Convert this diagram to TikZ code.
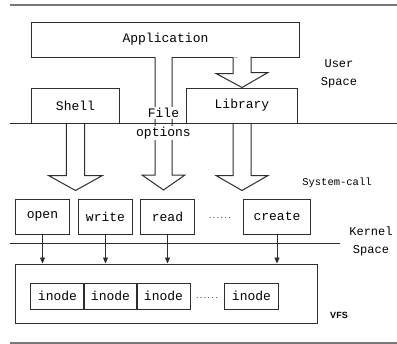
\documentclass[tikz,border=0pt]{standalone}
\usepackage{fontspec}
\setmonofont{Liberation Mono}
\newfontfamily\labelsans{Liberation Sans}
\usetikzlibrary{arrows.meta}
\definecolor{ink}{RGB}{45,45,45}
\definecolor{rule}{RGB}{120,120,120}
\newcommand\ttbig{\ttfamily\fontsize{13bp}{15bp}\selectfont}
\newcommand\ttlabel{\ttfamily\fontsize{12bp}{18bp}\selectfont}
\begin{document}
\begin{tikzpicture}[x=1bp,y=-1bp,
  box/.style={draw=ink, line width=1bp, minimum height=35bp, inner sep=0pt, font=\ttbig},
  inodebox/.style={draw=ink, line width=1bp, minimum width=53bp, minimum height=26bp, inner sep=0pt, font=\ttbig},
  blk/.style={draw=ink, line width=1bp, fill=white, line join=miter},
  call/.style={draw=ink, line width=0.9bp, -{Triangle[length=6bp,width=5bp]}},
  sep/.style={draw=ink, line width=1bp},
  frame/.style={draw=rule, line width=1.4bp},
  side/.style={font=\ttlabel, align=center, inner sep=0pt},
  dots/.style={font=\ttfamily\fontsize{6.5bp}{7bp}\selectfont, inner sep=0pt},
  gaptext/.style={font=\ttbig, fill=white, inner sep=1bp}]

\useasboundingbox (0,0) rectangle (397,344);

% outer rules
\draw[frame] (10,5) -- (397,5);
\draw[frame] (10,343) -- (397,343);

% user space
\node[box, minimum width=267bp] (app) at (165.5,39.5) {Application};
\node[box, minimum width=87bp] (shell) at (75.5,105.5) {Shell};
\node[box, minimum width=110bp] (lib) at (242,105.5) {Library};

% application -> library
\draw[blk] ([xshift=-9bp]lib.north |- app.south) -- ++(0,16) -- ++(-17,0)
  -- (lib.north) -- ++(26,-15) -- ++(-17,0) -- ++(0,-16);

% file options: application straight down to the system calls
\coordinate (fo) at (163.5,57);
\draw[blk] ([xshift=-8.5bp]fo) -- ++(0,118) -- ++(-13,0) -- ++(21.5,15)
  -- ++(21.5,-15) -- ++(-13,0) -- ++(0,-118);
\node[gaptext] (file) at (163.5,113) {File};
\node[gaptext] (opts) at (163.5,133) {options};

% shell and library down to the system calls
\draw[blk] ([xshift=-9bp]shell.south) -- ++(0,52) -- ++(-18,0) -- ++(27,15)
  -- ++(27,-15) -- ++(-18,0) -- ++(0,-52);
\draw[blk] ([xshift=-9bp]lib.south) -- ++(0,52) -- ++(-17,0) -- ++(26,15)
  -- ++(26,-15) -- ++(-17,0) -- ++(0,-52);

% user / kernel boundary
\draw[sep] (10,123) -- (397,123);
\node[side] (user) at (339,74) {User\\Space};

% system calls
\node[box, minimum width=53bp] (open) at (42.5,216.5) {open};
\node[box, minimum width=53bp] (write) at (105.5,216.5) {write};
\node[box, minimum width=53bp] (read) at (167.5,216.5) {read};
\node[box, minimum width=66bp] (create) at (277,216.5) {create};
\node[dots] (cdots) at (220,218) {......};
\node[font=\ttfamily\fontsize{10.5bp}{12bp}\selectfont, inner sep=0pt] (sys) at (337,183) {System-call};

\draw[sep] (10,243) -- (340,243);
\node[side] (kern) at (371,241) {Kernel\\Space};

% virtual file system
\node[draw=ink, line width=1bp, minimum width=301bp, minimum height=59bp, inner sep=0pt] (vfs) at (166.5,293.5) {};
\node[inodebox] (i1) at (57.5,296) {inode};
\node[inodebox] (i2) at (110.5,296) {inode};
\node[inodebox] (i3) at (163.5,296) {inode};
\node[inodebox] (i4) at (251.5,296) {inode};
\node[dots] (idots) at (207,298) {......};
\node[font=\labelsans\bfseries\fontsize{9bp}{10bp}\selectfont, inner sep=0pt] (vfslabel) at (339,315) {VFS};

% calls into the VFS
\draw[call] (open.south) -- (open.south |- vfs.north);
\draw[call] (write.south) -- (write.south |- vfs.north);
\draw[call] (read.south) -- (read.south |- vfs.north);
\draw[call] (create.south) -- (create.south |- vfs.north);
\end{tikzpicture}
\end{document}
